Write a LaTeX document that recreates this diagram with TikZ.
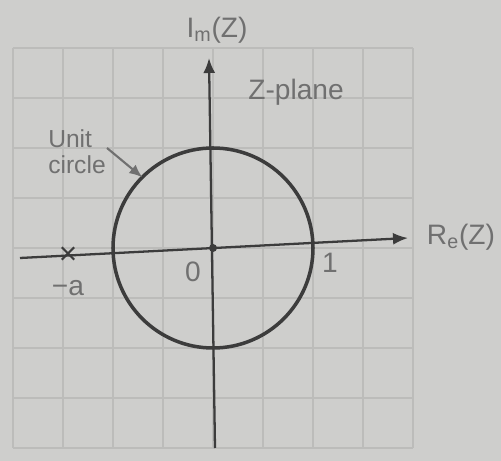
\documentclass[tikz,border=0pt]{standalone}
\usepackage{fontspec}
\setmainfont{Liberation Sans}
\usetikzlibrary{arrows.meta}
\definecolor{paper}{RGB}{206,206,204}
\definecolor{ink}{RGB}{60,60,60}
\definecolor{rule}{RGB}{188,188,186}
\definecolor{print}{RGB}{112,112,112}
\begin{document}
\begin{tikzpicture}[
  x=1cm, y=1cm,
  font=\fontsize{16}{18}\selectfont,
  gridline/.style={draw=rule, line width=0.8pt},
  axis/.style={draw=ink, line width=1.3pt, -{Latex[length=3mm,width=2.4mm]}},
  ucircle/.style={draw=ink, line width=2pt},
  lbl/.style={text=print, inner sep=1pt},
  pointer/.style={draw=print, line width=1.2pt, -{Latex[length=2.6mm,width=2.2mm]}}
]
\fill[paper] (-4.26,-4.26) rectangle (5.76,4.96);
\useasboundingbox (-4.26,-4.26) rectangle (5.76,4.96);

% grid
\foreach \k in {-4,...,4} {
  \draw[gridline] (\k,-4) -- (\k,4);
  \draw[gridline] (-4,\k) -- (4,\k);
}

\coordinate (xl) at (-3.86,-0.2);
\coordinate (xr) at (3.9,0.2);
\coordinate (yb) at (0.04,-4);
\coordinate (yt) at (-0.08,3.8);
\coordinate (o) at (0,0);
\coordinate (c45) at (135:2);
\coordinate (ucs) at (-2.12,2.0);

\draw[axis] (xl) -- (xr);
\draw[axis] (yb) -- (yt);
\draw[ucircle] (o) circle (2);
\fill[ink] (o) circle (0.08);

\node[lbl] (im) at (0.08,4.36) {I\textsubscript{m}(Z)};
\node[lbl] (re) at (4.96,0.22) {R\textsubscript{e}(Z)};
\node[lbl] (zp) at (1.66,3.12) {Z-plane};
\node[lbl, align=left, font=\fontsize{14}{15}\selectfont] (uc) at (-2.72,1.92) {Unit\\circle};
\node[lbl] (one) at (2.34,-0.3) {1};
\node[lbl] (zero) at (-0.4,-0.48) {0};
\node[lbl] (ma) at (-2.9,-0.8) {−a};
\node[text=ink, inner sep=0pt, font=\fontsize{18}{18}\selectfont] (pole) at (-2.9,-0.15) {×};

\draw[pointer] (ucs) -- (c45);
\end{tikzpicture}
\end{document}
